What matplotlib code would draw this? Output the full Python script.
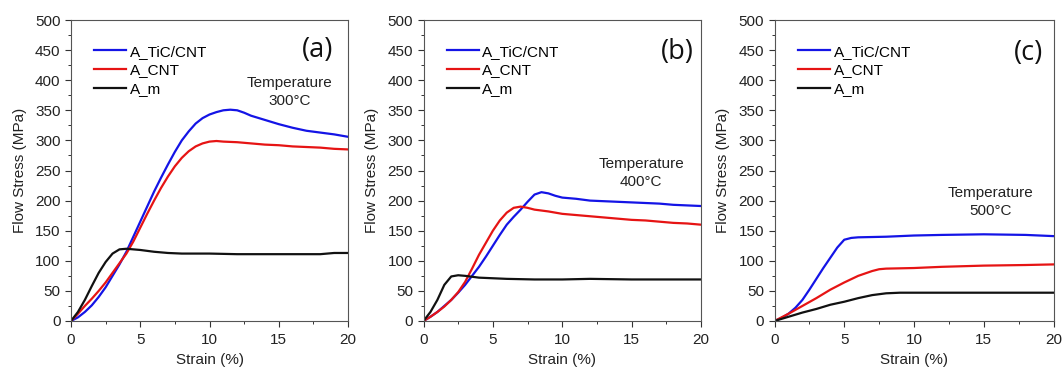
import matplotlib
matplotlib.use("Agg")
import matplotlib.pyplot as plt
from matplotlib.ticker import MultipleLocator

plt.rcParams['font.family'] = ['Liberation Sans', 'DejaVu Sans']

labels = ["A_TiC/CNT", "A_CNT", "A_m"]
colors = ["#1414e6", "#e61414", "#111111"]

# Panel (a) 300°C
a_tic_x = [0, 0.5, 1, 1.5, 2, 2.5, 3, 3.5, 4, 4.5, 5, 5.5, 6, 6.5, 7, 7.5, 8, 8.5, 9, 9.5, 10, 10.5, 11, 11.5, 12, 12.5, 13, 14, 15, 16, 17, 18, 19, 20]
a_tic_y = [0, 6, 15, 26, 40, 56, 75, 94, 115, 140, 165, 190, 215, 238, 260, 281, 300, 315, 328, 337, 343, 347, 350, 351, 350, 346, 341, 334, 327, 321, 316, 313, 310, 306]
a_cnt_x = [0, 0.5, 1, 1.5, 2, 2.5, 3, 3.5, 4, 4.5, 5, 5.5, 6, 6.5, 7, 7.5, 8, 8.5, 9, 9.5, 10, 10.5, 11, 12, 13, 14, 15, 16, 17, 18, 19, 20]
a_cnt_y = [0, 12, 25, 37, 50, 64, 80, 96, 112, 132, 155, 178, 200, 221, 240, 257, 271, 282, 290, 295, 298, 299, 298, 297, 295, 293, 292, 290, 289, 288, 286, 285]
a_m_x = [0, 0.5, 1, 1.5, 2, 2.5, 3, 3.5, 4, 4.5, 5, 6, 7, 8, 10, 12, 14, 16, 18, 19, 20]
a_m_y = [0, 15, 35, 58, 80, 98, 112, 119, 120, 119, 118, 115, 113, 112, 112, 111, 111, 111, 111, 113, 113]

# Panel (b) 400°C
b_tic_x = [0, 0.5, 1, 1.5, 2, 2.5, 3, 3.5, 4, 4.5, 5, 5.5, 6, 6.5, 7, 7.5, 8, 8.5, 9, 9.5, 10, 11, 12, 13, 14, 15, 16, 17, 18, 19, 20]
b_tic_y = [0, 7, 15, 25, 35, 47, 60, 75, 90, 107, 125, 143, 160, 173, 185, 198, 210, 214, 212, 208, 205, 203, 200, 199, 198, 197, 196, 195, 193, 192, 191]
b_cnt_x = [0, 0.5, 1, 1.5, 2, 2.5, 3, 3.5, 4, 4.5, 5, 5.5, 6, 6.5, 7, 7.5, 8, 9, 10, 11, 12, 13, 14, 15, 16, 17, 18, 19, 20]
b_cnt_y = [0, 7, 15, 24, 35, 48, 65, 87, 110, 130, 150, 167, 180, 188, 190, 188, 185, 182, 178, 176, 174, 172, 170, 168, 167, 165, 163, 162, 160]
b_m_x = [0, 0.5, 1, 1.5, 2, 2.5, 3, 4, 5, 6, 8, 10, 12, 15, 20]
b_m_y = [0, 15, 35, 60, 74, 76, 75, 72, 71, 70, 69, 69, 70, 69, 69]

# Panel (c) 500°C
c_tic_x = [0, 0.5, 1, 1.5, 2, 2.5, 3, 3.5, 4, 4.5, 5, 5.5, 6, 8, 10, 12, 15, 18, 20]
c_tic_y = [0, 5, 12, 22, 35, 52, 70, 88, 105, 122, 135, 138, 139, 140, 142, 143, 144, 143, 141]
c_cnt_x = [0, 1, 2, 3, 4, 5, 6, 7, 7.5, 8, 10, 12, 15, 18, 20]
c_cnt_y = [0, 12, 25, 38, 52, 64, 75, 83, 86, 87, 88, 90, 92, 93, 94]
c_m_x = [0, 1, 2, 3, 4, 5, 6, 7, 8, 9, 10, 12, 15, 18, 20]
c_m_y = [0, 7, 14, 20, 27, 32, 38, 43, 46, 47, 47, 47, 47, 47, 47]

panels = [
    ("(a)", "Temperature\n300°C", [(a_tic_x, a_tic_y), (a_cnt_x, a_cnt_y), (a_m_x, a_m_y)], (15.8, 381), (17.8, 450)),
    ("(b)", "Temperature\n400°C", [(b_tic_x, b_tic_y), (b_cnt_x, b_cnt_y), (b_m_x, b_m_y)], (15.7, 246), (18.3, 447)),
    ("(c)", "Temperature\n500°C", [(c_tic_x, c_tic_y), (c_cnt_x, c_cnt_y), (c_m_x, c_m_y)], (15.5, 197), (18.2, 445)),
]

W, H = 1064, 367
fig = plt.figure(figsize=(W / 100, H / 100), dpi=100)
lefts = [71, 423.5, 774.5]
rights = [348, 701, 1053.5]
top, bottom = 20, 321
FS = 11

for i, (tag, temp, series, tpos, lpos) in enumerate(panels):
    ax = fig.add_axes([lefts[i] / W, 1 - bottom / H, (rights[i] - lefts[i]) / W, (bottom - top) / H])
    for (x, y), lab, col in zip(series, labels, colors):
        ax.plot(x, y, color=col, lw=1.6, label=lab)
    ax.set_xlim(0, 20)
    ax.set_ylim(0, 500)
    ax.xaxis.set_major_locator(MultipleLocator(5))
    ax.xaxis.set_minor_locator(MultipleLocator(2.5))
    ax.yaxis.set_major_locator(MultipleLocator(50))
    ax.yaxis.set_minor_locator(MultipleLocator(25))
    ax.tick_params(which='major', direction='out', length=4.5, width=0.8, labelsize=FS, colors='#333333', labelcolor='#222222')
    ax.tick_params(axis='x', which='major', pad=4.5)
    ax.tick_params(axis='y', which='major', pad=3)
    ax.tick_params(which='minor', direction='out', length=2.5, width=0.7, colors='#333333')
    for s in ax.spines.values():
        s.set_color('#555555')
        s.set_linewidth(0.8)
    ax.set_xlabel("Strain (%)", fontsize=FS, color='#222222', labelpad=4)
    ax.set_ylabel("Flow Stress (MPa)", fontsize=FS, color='#222222', labelpad=6)
    ax.legend(loc='upper left', bbox_to_anchor=(0.05, 0.948), frameon=False, fontsize=FS,
              handlelength=2.1, handletextpad=0.25, labelspacing=0.3, borderaxespad=0.2)
    ax.text(tpos[0], tpos[1], temp, ha='center', va='center', fontsize=FS, color='#222222', linespacing=1.35)
    ax.text(lpos[0], lpos[1], tag, ha='center', va='center', fontsize=19.5, color='#111111',
            family=['Open Sans', 'DejaVu Sans'])

fig.savefig("out.png", dpi=100)
